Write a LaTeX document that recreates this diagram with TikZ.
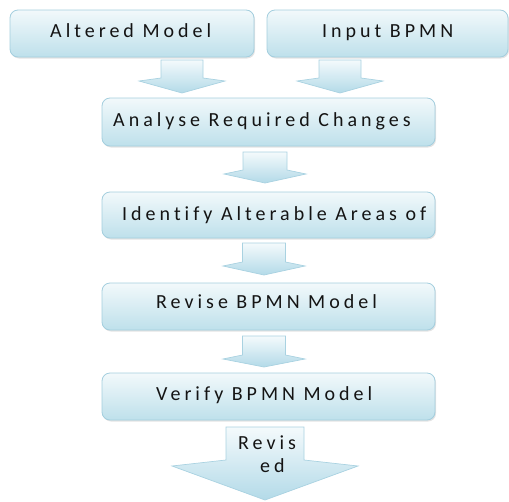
\documentclass[tikz,border=0pt]{standalone}
\usepackage{fontspec}
\usetikzlibrary{shadows}
\newfontfamily\lblfont[LetterSpace=20, Ligatures=NoCommon]{Carlito}

\definecolor{boxtop}{HTML}{F2F9FB}
\definecolor{boxbot}{HTML}{BEE0EB}
\definecolor{boxline}{HTML}{A3CEDE}
\definecolor{arrtop}{HTML}{F4FAFC}
\definecolor{arrbot}{HTML}{B3DAE8}
\definecolor{arrline}{HTML}{A9D2E1}
\definecolor{lbl}{HTML}{141414}

\tikzset{
  stepbox/.style={rounded corners=8pt, draw=boxline, line width=0.8pt,
    top color=boxtop, bottom color=boxbot,
    drop shadow={opacity=0.22, shadow xshift=1pt, shadow yshift=-1.5pt},
    inner sep=0pt},
  blockarrow/.style={draw=arrline, line width=0.7pt, top color=arrtop, bottom color=arrbot},
  steptext/.style={font=\lblfont\fontsize{20}{24}\selectfont, text=lbl, inner sep=0pt, anchor=base west}
}

% block arrow: centre x, stem half width, stem top, stem bottom, wing half width, wing y, tip y
\newcommand\downblock[7]{%
  \path[blockarrow] (#1-#2,#3) -- (#1-#2,#4) -- (#1-#5,#6) -- (#1,#7)
    -- (#1+#5,#6) -- (#1+#2,#4) -- (#1+#2,#3) -- cycle;}

\begin{document}
\begin{tikzpicture}[x=1pt, y=-1pt]
\useasboundingbox (0,0) rectangle (509,501);

% process boxes
\node[stepbox, minimum width=244pt, minimum height=47pt] (altered) at (132,33.5) {};
\node[stepbox, minimum width=241pt, minimum height=47pt] (input) at (387.5,33.5) {};
\node[stepbox, minimum width=333pt, minimum height=48pt] (analyse) at (268.5,122) {};
\node[stepbox, minimum width=333pt, minimum height=46pt] (identify) at (268.5,215) {};
\node[stepbox, minimum width=333pt, minimum height=47pt] (revise) at (268.5,306.5) {};
\node[stepbox, minimum width=333pt, minimum height=47pt] (verify) at (268.5,396.5) {};

% box labels
\node[steptext] (taltered) at (50,37) {Altered Model};
\node[steptext] (tinput) at (322,37) {Input BPMN};
\node[steptext] (tanalyse) at (113,126) {Analyse Required Changes};
\node[steptext] (tidentify) at (122,220) {Identify Alterable Areas of};
\node[steptext] (trevise) at (156,308.5) {Revise BPMN Model};
\node[steptext] (tverify) at (156,400) {Verify BPMN Model};

% block arrows between the steps
\downblock{182}{21}{60}{78}{43}{81}{93}
\downblock{340}{21}{60}{78}{43}{81}{93}
\downblock{265}{22}{152}{170}{41}{174}{183}
\downblock{264}{21.5}{243}{262}{41}{266}{275}
\downblock{264}{21.5}{336}{355}{41}{359}{367}
\downblock{265}{39}{427}{460}{93}{466}{500}

% label on the outgoing arrow
\node[steptext] (trev1) at (238,449) {Revis};
\node[steptext] (trev2) at (260,472) {ed};
\end{tikzpicture}
\end{document}
